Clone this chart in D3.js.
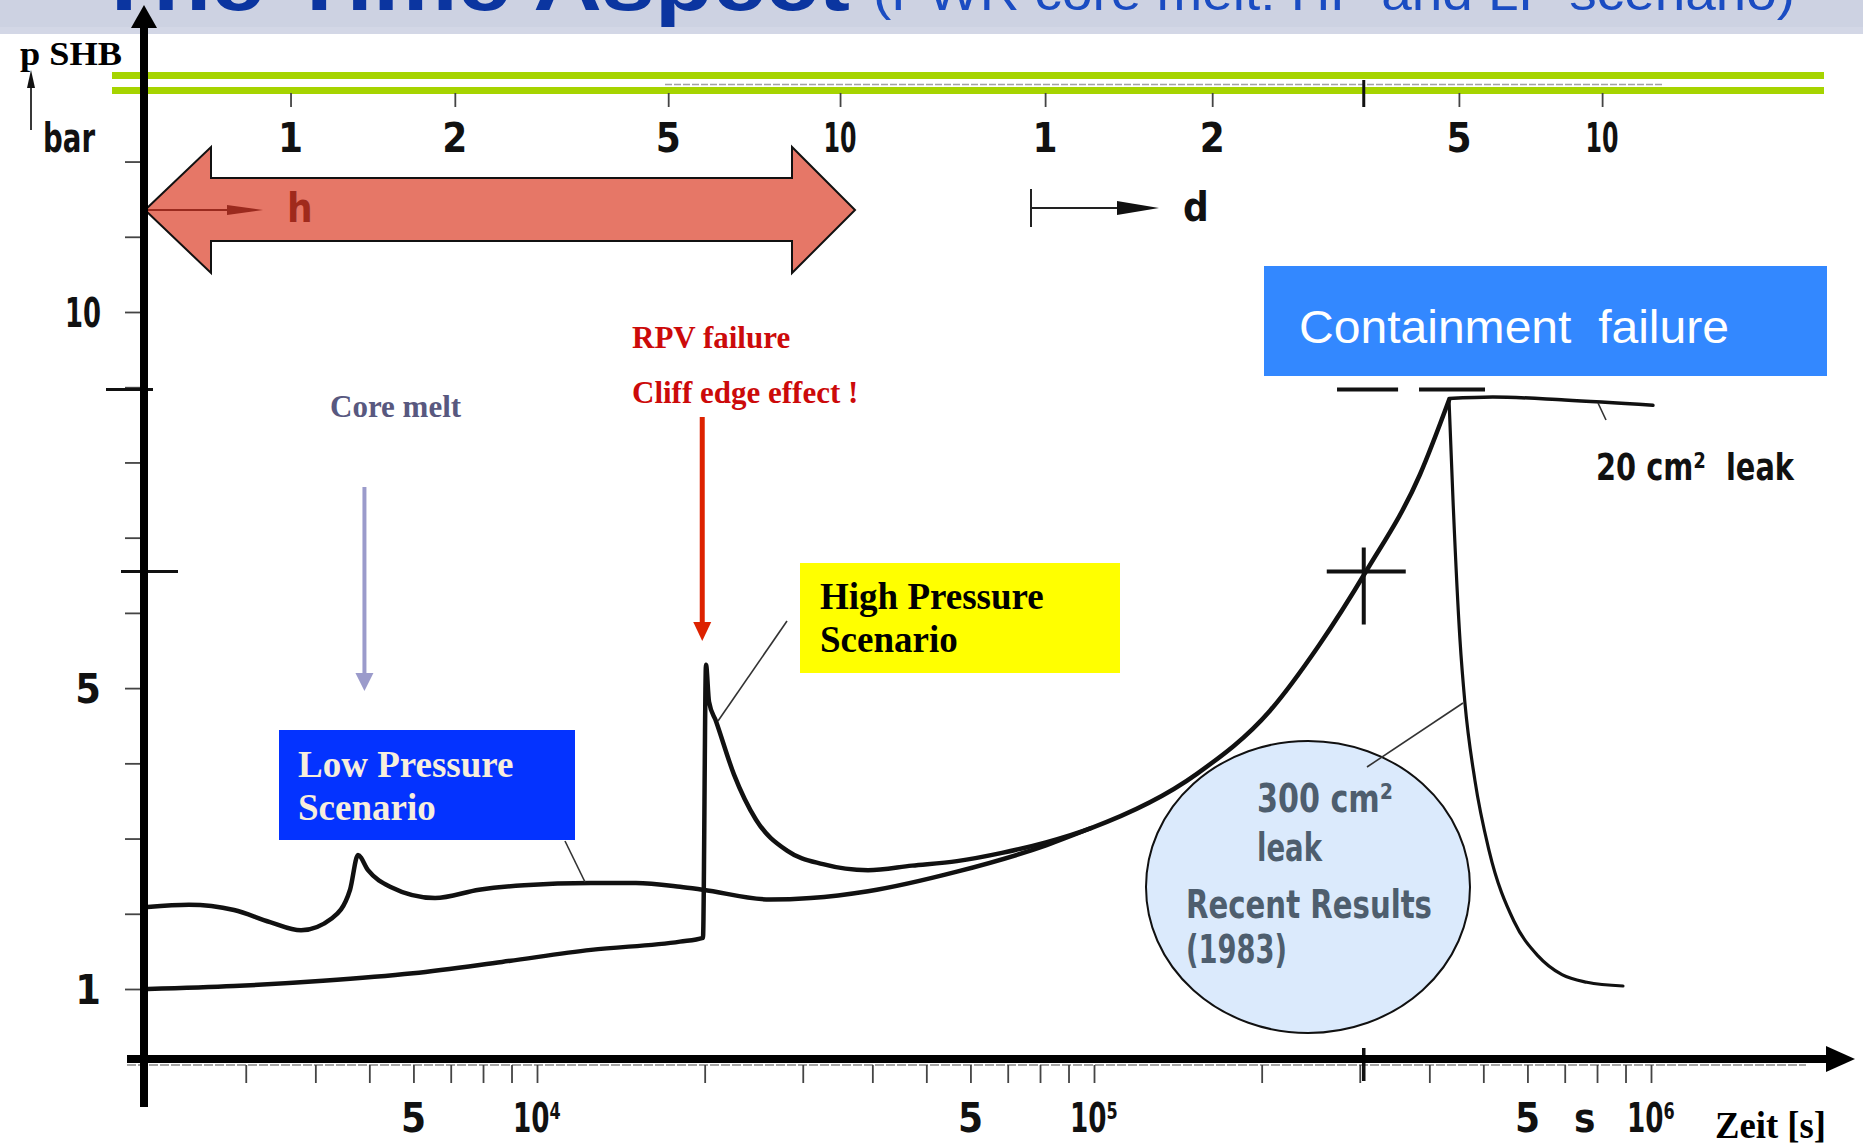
<!DOCTYPE html>
<html><head><meta charset="utf-8">
<script src="https://cdn.jsdelivr.net/npm/d3@7"></script>
<style>html,body{margin:0;padding:0;background:#fff;overflow:hidden}</style>
</head><body>
<svg id="c" width="1863" height="1146"></svg>
<script>
// ---------------- data (time in s, pressure in bar) ----------------
const lowPressureTime = [2000, 2372, 2858, 3317, 3770, 4285, 4617, 4771, 4973, 5447, 6560, 7870, 9480, 12500, 15050, 18060, 19860, 26200, 31000, 39300, 56750, 82000, 98800];
const lowPressureBar  = [2.09, 2.12, 2.05, 1.89, 1.78, 1.94, 2.32, 2.78, 2.58, 2.36, 2.21, 2.32, 2.38, 2.41, 2.41, 2.36, 2.32, 2.19, 2.21, 2.30, 2.56, 2.91, 3.14];

const highPressureTime = [2000, 2858, 4129, 5990, 8653, 12500, 18060, 19860, 20110, 20360, 20960, 22580, 24730, 28110, 32620, 39300, 47120, 56750, 68360, 82000, 98800, 153000, 207000, 253500, 307800, 384800, 433900];
const highPressureBar  = [1.00, 1.04, 1.11, 1.21, 1.36, 1.52, 1.63, 1.68, 5.31, 4.82, 4.56, 3.85, 3.25, 2.84, 2.66, 2.58, 2.64, 2.70, 2.81, 2.95, 3.14, 3.86, 4.70, 5.57, 6.55, 7.84, 8.83];

const leak300Time = [433900, 441100, 454000, 463400, 483000, 512000, 567500, 626800, 692200, 767400, 890600];
const leak300Bar  = [8.83, 7.50, 5.64, 4.80, 3.77, 2.84, 1.90, 1.44, 1.19, 1.09, 1.04];

const leak20Time = [433900, 520000, 700000, 1008000];
const leak20Bar  = [8.85, 8.87, 8.83, 8.76];

const designDashStart = [273100, 383300];
const designDashEnd   = [351500, 503500];
const designPressure = 8.97;

const refTime = 305000;       // reference mark (cross / big ticks)
const crossPressure = 6.55;
const coreMeltTime = 4900;
const rpvFailureTime = 19800;

const topTickTimes  = [3610, 7120, 17200, 35000, 81700, 163000, 452000, 817000];
const topTickLabels = ["1", "2", "5", "10", "1", "2", "5", "10"];

const bottomTickTimes = [3000, 4000, 5000, 6000, 7000, 8000, 9000, 10000, 20000, 30000, 40000, 50000, 60000, 70000, 80000, 90000, 100000, 200000, 300000, 400000, 500000, 600000, 700000, 800000, 900000, 1000000];
const bottomLabelTimes = [6000, 10000, 60000, 100000, 600000, 760000, 1000000];
const bottomLabelText  = ["5", "10⁴", "5", "10⁵", "5", "s", "10⁶"];

const yTickValues  = [1, 2, 3, 4, 5, 6, 7, 8, 9, 10, 11, 12];
const yLabelValues = [1, 5, 10];
const yLabelText   = ["1", "5", "10"];

const titleMain = "The Time Aspect";
const titleSub  = "(PWR core melt: HP and LP scenario)";

// ---------------- setup ----------------
const W = 1863, H = 1146;
const fDin  = "'Liberation Sans Narrow','DejaVu Sans Condensed','Arial Narrow','Roboto',sans-serif";
const fSans = "'Liberation Sans',Arial,'DejaVu Sans',sans-serif";
const fSerif = "'Liberation Serif','Times New Roman',serif";

const x = d3.scaleLog().domain([1e4, 1e6]).range([537, 1651]);
const y = d3.scaleLinear().domain([1, 10]).range([989, 312]);

const svg = d3.select('#c');
svg.append('rect').attr('width', W).attr('height', H).attr('fill', '#fff');

// banner + cropped title
svg.append('rect').attr('x', 0).attr('y', 0).attr('width', W).attr('height', 34).attr('fill', '#cdd2e2');
svg.append('rect').attr('x', 0).attr('y', 27).attr('width', W).attr('height', 7).attr('fill', '#d3d7e6');
svg.append('text').attr('x', 95).attr('y', 10).attr('font-family', fSans).attr('font-weight', 'bold')
  .attr('font-size', 80).attr('fill', '#0b35a0').attr('textLength', 755).attr('lengthAdjust', 'spacingAndGlyphs').text(titleMain);
svg.append('text').attr('x', 873).attr('y', 10).attr('font-family', fSans)
  .attr('font-size', 50).attr('fill', '#1a4cc2').attr('textLength', 922).attr('lengthAdjust', 'spacingAndGlyphs').text(titleSub);

// green double line
[72, 87].forEach(yy => svg.append('rect').attr('x', 112).attr('y', yy).attr('width', 1712).attr('height', 7).attr('fill', '#a6d400'));
svg.append('line').attr('x1', 665).attr('x2', 1663).attr('y1', 84.5).attr('y2', 84.5)
  .attr('stroke', '#666').attr('stroke-width', 1.3).attr('stroke-dasharray', '7 2').attr('opacity', 0.6);

// helper for narrow multi-character labels
function narrow(sel, w2, w3) {
  sel.each(function () {
    const s = d3.select(this);
    const n = s.text().length;
    if (n === 2) s.attr('textLength', w2).attr('lengthAdjust', 'spacingAndGlyphs');
    if (n === 3 && w3) s.attr('textLength', w3).attr('lengthAdjust', 'spacingAndGlyphs');
  });
}

// top time scale (hours / days)
const topAxis = d3.axisBottom(x).tickValues(topTickTimes).tickSize(14).tickFormat('');
const gTop = svg.append('g').attr('transform', 'translate(0,93)').call(topAxis);
gTop.select('.domain').remove();
gTop.selectAll('line').attr('stroke', '#444').attr('stroke-width', 1.8);
svg.append('line').attr('x1', x(refTime)).attr('x2', x(refTime)).attr('y1', 80).attr('y2', 107).attr('stroke', '#111').attr('stroke-width', 3);
const topLab = svg.selectAll('text.toplab').data(topTickTimes).enter().append('text').attr('class', 'toplab')
  .attr('x', d => x(d)).attr('y', 152).attr('text-anchor', 'middle')
  .attr('font-family', fDin).attr('font-weight', 'bold').attr('font-size', 40).attr('fill', '#111')
  .text((d, i) => topTickLabels[i]);
narrow(topLab, 33);

// red double arrow (hours band)
const redArrow = [[145,210],[211,147],[211,178],[792,178],[792,147],[855,210],[792,273],[792,241],[211,241],[211,273]];
svg.append('polygon').attr('points', redArrow.map(p => p.join(',')).join(' '))
  .attr('fill', '#e67767').attr('stroke', '#111').attr('stroke-width', 2);
svg.append('line').attr('x1', 148).attr('x2', 232).attr('y1', 210).attr('y2', 210).attr('stroke', '#9a2a1e').attr('stroke-width', 2.2);
svg.append('polygon').attr('points', '227,205 263,210 227,215').attr('fill', '#9a2a1e');
svg.append('text').attr('x', 287).attr('y', 222).attr('font-family', fDin).attr('font-weight', 'bold').attr('font-size', 40).attr('fill', '#a02a1c').text('h');

// days indicator
svg.append('line').attr('x1', 1031).attr('x2', 1031).attr('y1', 189).attr('y2', 227).attr('stroke', '#222').attr('stroke-width', 2);
svg.append('line').attr('x1', 1031).attr('x2', 1120).attr('y1', 208).attr('y2', 208).attr('stroke', '#222').attr('stroke-width', 2);
svg.append('polygon').attr('points', '1117,201 1159,208 1117,215').attr('fill', '#111');
svg.append('text').attr('x', 1183).attr('y', 221).attr('font-family', fDin).attr('font-weight', 'bold').attr('font-size', 40).attr('fill', '#111').text('d');

// y axis ticks and labels
const yAxis = d3.axisLeft(y).tickValues(yTickValues).tickSize(15).tickFormat('');
const gY = svg.append('g').attr('transform', 'translate(140,0)').call(yAxis);
gY.select('.domain').remove();
gY.selectAll('line').attr('stroke', '#444').attr('stroke-width', 1.8);
svg.append('line').attr('x1', 106).attr('x2', 153).attr('y1', y(designPressure)).attr('y2', y(designPressure)).attr('stroke', '#111').attr('stroke-width', 3);
svg.append('line').attr('x1', 121).attr('x2', 178).attr('y1', y(crossPressure)).attr('y2', y(crossPressure)).attr('stroke', '#111').attr('stroke-width', 3);
const yLab = svg.selectAll('text.ylab').data(yLabelValues).enter().append('text').attr('class', 'ylab')
  .attr('x', 101).attr('y', d => y(d) + 15).attr('text-anchor', 'end')
  .attr('font-family', fDin).attr('font-weight', 'bold').attr('font-size', 41).attr('fill', '#111')
  .text((d, i) => yLabelText[i]);
narrow(yLab, 36);

// y axis title
svg.append('text').attr('x', 20).attr('y', 65).attr('font-family', fSerif).attr('font-weight', 'bold')
  .attr('font-size', 33).attr('fill', '#000').attr('textLength', 102).attr('lengthAdjust', 'spacingAndGlyphs').text('p SHB');
svg.append('line').attr('x1', 31).attr('x2', 31).attr('y1', 84).attr('y2', 130).attr('stroke', '#222').attr('stroke-width', 1.8);
svg.append('polygon').attr('points', '27,88 31,70 35,88').attr('fill', '#111');
svg.append('text').attr('x', 43).attr('y', 152).attr('font-family', fDin).attr('font-weight', 'bold')
  .attr('font-size', 40).attr('fill', '#111').attr('textLength', 52).attr('lengthAdjust', 'spacingAndGlyphs').text('bar');

// bottom scale
svg.append('line').attr('x1', 127).attr('x2', 1806).attr('y1', 1065).attr('y2', 1065)
  .attr('stroke', '#888').attr('stroke-width', 1.3).attr('stroke-dasharray', '9 2');
const xAxis = d3.axisBottom(x).tickValues(bottomTickTimes).tickSize(18).tickFormat('');
const gX = svg.append('g').attr('transform', 'translate(0,1065)').call(xAxis);
gX.select('.domain').remove();
gX.selectAll('line').attr('stroke', '#444').attr('stroke-width', 1.8);
svg.append('line').attr('x1', x(refTime)).attr('x2', x(refTime)).attr('y1', 1048).attr('y2', 1081).attr('stroke', '#111').attr('stroke-width', 3.5);
const bLab = svg.selectAll('text.blab').data(bottomLabelTimes).enter().append('text').attr('class', 'blab')
  .attr('x', d => x(d)).attr('y', 1132).attr('text-anchor', 'middle')
  .attr('font-family', fDin).attr('font-weight', 'bold').attr('font-size', 40).attr('fill', '#111')
  .text((d, i) => bottomLabelText[i]);
narrow(bLab, 31, 48);
svg.append('text').attr('x', 1715).attr('y', 1138).attr('font-family', fSerif).attr('font-weight', 'bold')
  .attr('font-size', 38).attr('fill', '#000').attr('textLength', 111).attr('lengthAdjust', 'spacingAndGlyphs').text('Zeit [s]');

// ellipse (recent results)
svg.append('ellipse').attr('cx', 1308).attr('cy', 887).attr('rx', 162).attr('ry', 146)
  .attr('fill', '#dbeafc').attr('stroke', '#111').attr('stroke-width', 2);

// curves
const line = d3.line().x(d => x(d[0])).y(d => y(d[1])).curve(d3.curveMonotoneX);
const series = [
  {t: lowPressureTime, p: lowPressureBar, w: 4.5},
  {t: highPressureTime, p: highPressureBar, w: 4.5},
  {t: leak300Time, p: leak300Bar, w: 3.2},
  {t: leak20Time, p: leak20Bar, w: 3.5}
];
series.forEach(s => {
  svg.append('path').attr('d', line(d3.zip(s.t, s.p))).attr('fill', 'none')
    .attr('stroke', '#111').attr('stroke-width', s.w).attr('stroke-linejoin', 'round').attr('stroke-linecap', 'round');
});
designDashStart.forEach((t0, i) => {
  svg.append('line').attr('x1', x(t0)).attr('x2', x(designDashEnd[i]))
    .attr('y1', y(designPressure)).attr('y2', y(designPressure)).attr('stroke', '#111').attr('stroke-width', 4);
});
// cross marker
svg.append('line').attr('x1', x(refTime) - 37).attr('x2', x(refTime) + 42).attr('y1', y(crossPressure)).attr('y2', y(crossPressure)).attr('stroke', '#111').attr('stroke-width', 4);
svg.append('line').attr('x1', x(refTime)).attr('x2', x(refTime)).attr('y1', y(crossPressure) - 24).attr('y2', y(crossPressure) + 53).attr('stroke', '#111').attr('stroke-width', 4);

// leader lines
[[565,841,585,882],[787,621,718,721],[1463,703,1367,767],[1598,403,1606,420]].forEach(l => {
  svg.append('line').attr('x1', l[0]).attr('y1', l[1]).attr('x2', l[2]).attr('y2', l[3]).attr('stroke', '#333').attr('stroke-width', 1.6);
});

// axes lines
svg.append('line').attr('x1', 127).attr('x2', 1830).attr('y1', 1059).attr('y2', 1059).attr('stroke', '#000').attr('stroke-width', 8);
svg.append('polygon').attr('points', '1826,1046 1855,1059 1826,1072').attr('fill', '#000');
svg.append('line').attr('x1', 144).attr('x2', 144).attr('y1', 24).attr('y2', 1107).attr('stroke', '#000').attr('stroke-width', 8);
svg.append('polygon').attr('points', '131,28 144,5 157,28').attr('fill', '#000');

// annotations
svg.append('text').attr('x', 330).attr('y', 417).attr('font-family', fSerif).attr('font-weight', 'bold')
  .attr('font-size', 31).attr('fill', '#58587f').text('Core melt');
svg.append('line').attr('x1', x(coreMeltTime)).attr('x2', x(coreMeltTime)).attr('y1', 487).attr('y2', 676).attr('stroke', '#9b9bcb').attr('stroke-width', 4);
svg.append('polygon').attr('points', `${x(coreMeltTime)-9},673 ${x(coreMeltTime)+9},673 ${x(coreMeltTime)},691`).attr('fill', '#9b9bcb');

svg.append('text').attr('x', 632).attr('y', 348).attr('font-family', fSerif).attr('font-weight', 'bold')
  .attr('font-size', 31).attr('fill', '#cc0a0a').text('RPV failure');
svg.append('text').attr('x', 632).attr('y', 403).attr('font-family', fSerif).attr('font-weight', 'bold')
  .attr('font-size', 31).attr('fill', '#cc0a0a').text('Cliff edge effect !');
svg.append('line').attr('x1', x(rpvFailureTime)).attr('x2', x(rpvFailureTime)).attr('y1', 417).attr('y2', 626).attr('stroke', '#dd2200').attr('stroke-width', 5);
svg.append('polygon').attr('points', `${x(rpvFailureTime)-9},622 ${x(rpvFailureTime)+9},622 ${x(rpvFailureTime)},641`).attr('fill', '#dd2200');

svg.append('rect').attr('x', 279).attr('y', 730).attr('width', 296).attr('height', 110).attr('fill', '#0433ff');
['Low Pressure', 'Scenario'].forEach((s, i) => svg.append('text').attr('x', 298).attr('y', 777 + i * 43)
  .attr('font-family', fSerif).attr('font-weight', 'bold').attr('font-size', 37).attr('fill', '#f6eedc').text(s));

svg.append('rect').attr('x', 800).attr('y', 563).attr('width', 320).attr('height', 110).attr('fill', '#ffff00');
['High Pressure', 'Scenario'].forEach((s, i) => svg.append('text').attr('x', 820).attr('y', 609 + i * 43)
  .attr('font-family', fSerif).attr('font-weight', 'bold').attr('font-size', 37).attr('fill', '#000').text(s));

svg.append('rect').attr('x', 1264).attr('y', 266).attr('width', 563).attr('height', 110).attr('fill', '#3388ff');
svg.append('text').attr('x', 1299).attr('y', 343).attr('font-family', fSans).attr('font-size', 46)
  .attr('fill', '#fff').attr('xml:space', 'preserve').attr('textLength', 430).attr('lengthAdjust', 'spacingAndGlyphs')
  .text('Containment  failure');

// helper: text of fixed width
function fitText(str, xx, yy, size, w, fill) {
  return svg.append('text').attr('x', xx).attr('y', yy).attr('font-family', fDin).attr('font-weight', 'bold')
    .attr('font-size', size).attr('fill', fill).attr('textLength', w).attr('lengthAdjust', 'spacingAndGlyphs')
    .attr('xml:space', 'preserve').text(str);
}
fitText('20 cm²  leak', 1596, 480, 38, 198, '#111');

const eFill = '#4e5e6e';
fitText('300 cm²', 1257, 812, 39, 136, eFill);
fitText('leak', 1257, 861, 39, 65, eFill);
fitText('Recent Results', 1186, 918, 39, 246, eFill);
fitText('(1983)', 1186, 963, 39, 101, eFill);
</script>
</body></html>
